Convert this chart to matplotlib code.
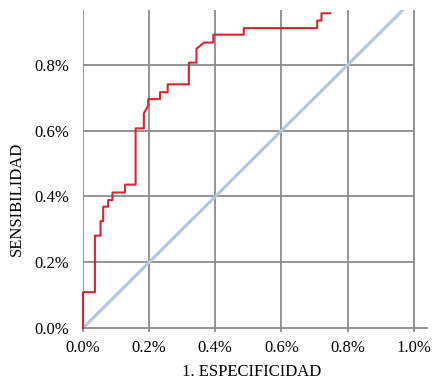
import matplotlib
matplotlib.use('Agg')
import matplotlib.pyplot as plt
from matplotlib.ticker import FuncFormatter

# ROC curve vertices (1 - specificity, sensitivity)
fpr = [0.0, 0.0, 0.036, 0.036, 0.053, 0.053, 0.061, 0.061, 0.076, 0.076,
       0.089, 0.089, 0.127, 0.127, 0.159, 0.159, 0.184, 0.184, 0.197, 0.197,
       0.233, 0.233, 0.256, 0.256, 0.320, 0.320, 0.343, 0.343, 0.366, 0.394,
       0.394, 0.486, 0.486, 0.708, 0.708, 0.721, 0.721, 0.748]
tpr = [0.0, 0.109, 0.109, 0.281, 0.281, 0.325, 0.325, 0.369, 0.369, 0.389,
       0.389, 0.412, 0.412, 0.436, 0.436, 0.607, 0.607, 0.653, 0.676, 0.696,
       0.696, 0.717, 0.717, 0.741, 0.741, 0.807, 0.807, 0.849, 0.868, 0.868,
       0.892, 0.892, 0.912, 0.912, 0.935, 0.935, 0.957, 0.957]
ref_line = [0.0, 1.0]
ticks = [0.0, 0.2, 0.4, 0.6, 0.8, 1.0]

plt.rcParams['font.family'] = ['Liberation Serif', 'DejaVu Serif']

fig = plt.figure(figsize=(4.39, 3.82), dpi=100)
ax = fig.add_axes([83 / 439, 54 / 382, 344 / 439, 318 / 382])

grid_c = '#8c8c8c'
for t in ticks:
    ax.axvline(t, color=grid_c, linewidth=1.3, zorder=1)
for t in ticks[1:5]:
    ax.hlines(t, 0, 1.0, color=grid_c, linewidth=1.3, zorder=1)

ax.plot(ref_line, ref_line, color='#b4c6dc', linewidth=2.2, zorder=2)
ax.plot(fpr, tpr, color='#d9262e', linewidth=1.5, zorder=3, clip_on=False)

ax.set_xlim(0, 1.04)
ax.set_ylim(0, 0.967)
ax.set_xticks(ticks)
ax.set_yticks(ticks[:5])
fmt = FuncFormatter(lambda v, p: f'{v:.1f}%')
ax.xaxis.set_major_formatter(fmt)
ax.yaxis.set_major_formatter(fmt)
ax.tick_params(axis='both', labelsize=12, color=grid_c, length=3, width=1.3)
ax.tick_params(axis='x', pad=6)
ax.tick_params(axis='y', length=0, pad=10)

for s in ['top', 'right', 'left']:
    ax.spines[s].set_visible(False)
ax.spines['bottom'].set_color(grid_c)
ax.spines['bottom'].set_linewidth(1.3)

ax.set_xlabel('1. ESPECIFICIDAD', fontsize=12)
ax.set_ylabel('SENSIBILIDAD', fontsize=12)
ax.xaxis.set_label_coords(0.49, -0.112)
ax.yaxis.set_label_coords(-0.17, 0.406)

fig.savefig('out.png', dpi=100)
